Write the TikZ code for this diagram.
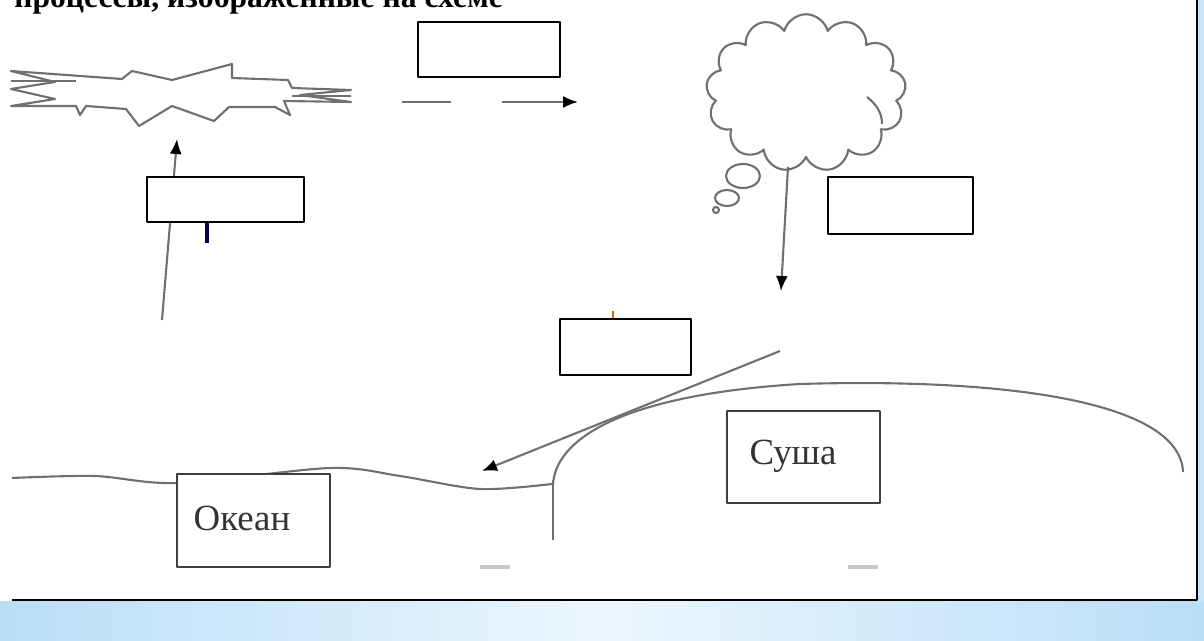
\documentclass[tikz,border=0pt]{standalone}
\usepackage{fontspec}
\setmainfont{Liberation Serif}
\usepackage{xcolor}
\usepackage{tikz}
\usetikzlibrary{shapes.symbols,arrows.meta}
\definecolor{trazo}{RGB}{112,112,112}
\definecolor{celeste}{RGB}{186,222,246}
\definecolor{celesteclaro}{RGB}{236,246,253}
\tikzset{
  caja/.style={draw=black, line width=1.1pt, fill=white, inner sep=0pt},
  cajatexto/.style={draw=black!75, line width=0.9pt, fill=white, inner sep=0pt},
  rotulo/.style={inner sep=0pt, font=\fontsize{21}{23}\selectfont, text=black!80},
  linea/.style={draw=trazo, line width=1.2pt},
  flecha/.style={linea, -{Latex[color=black, length=3mm, width=2.4mm]}}
}

\begin{document}
\begin{tikzpicture}[x=0.02cm, y=-0.02cm, line join=round]
    \useasboundingbox (0,0) rectangle (1204,641);
    \clip (0,0) rectangle (1204,641);

    % Fondo y marco
    \shade[left color=celeste, right color=celeste, middle color=celesteclaro]
      (0,602) rectangle (1204,641);
    \fill[celeste!80] (1198,0) rectangle (1204,602);
    \draw[line width=1.6pt] (12,600) -- (1197,600) -- (1197,0);

    % Titulo (cortado arriba)
    \node[anchor=base west, inner sep=0pt, font=\bfseries\fontsize{18}{20}\selectfont]
      (titulo) at (14,8) {процессы, изображенные на схеме};

    % Coordenadas clave
    \coordinate (rayo-base) at (162,320);
    \coordinate (rayo-pie) at (177,139);
    \coordinate (rayo-der) at (402,102);
    \coordinate (nube-pie) at (788,167);
    \coordinate (lluvia) at (781,291);
    \coordinate (rio) at (780,351);
    \coordinate (costa) at (482,471);

    % Rayo / evaporacion
    \draw[linea, fill=white] (11,71) -- (122,79) -- (132,71) -- (172,80) -- (232,64)
      -- (232,78) -- (288,80) -- (292,88) -- (351,90) -- (300,95) -- (351,102)
      -- (284,101) -- (290,115) -- (275,107) -- (229,107) -- (214,121) -- (172,106)
      -- (139,126) -- (126,109) -- (86,106) -- (80,115) -- (76,106) -- (11,106)
      -- (55,99) -- (11,89) -- (55,82) -- cycle;
    \draw[linea] (11,81) -- (76,81);
    \draw[linea] (292,96) -- (351,96);

    % Nube
    \node[cloud, draw=trazo, line width=1.2pt, fill=white, cloud puffs=13, aspect=1.25,
      minimum width=4cm, minimum height=3.15cm] (nube) at (806,93) {};
    \draw[linea] (867,97) .. controls (877,105) and (882,113) .. (882,124);
    \draw[linea, fill=white] (743,176) ellipse [x radius=17, y radius=12];
    \draw[linea, fill=white] (727,198) ellipse [x radius=12, y radius=8];
    \draw[linea] (716,210) circle [radius=3];

    % Oceano y tierra
    \draw[linea] plot[smooth] coordinates {(12,478) (95,476) (177,483) (330,468)
      (400,476) (480,489) (552,484)};
    \draw[linea, line width=0.8pt] (553,480) -- (553,540);
    \draw[linea] (553,485) .. controls (555,440) and (620,395) .. (800,384)
      .. controls (1000,378) and (1180,400) .. (1183,472);
    \draw[trazo!40, line width=2pt] (480,567) -- (510,567);
    \draw[trazo!40, line width=2pt] (848,567) -- (878,567);

    % Flechas
    \draw[flecha] (rayo-base) -- (rayo-pie);
    \draw[flecha, dash pattern=on 28pt off 29pt on 45pt off 10pt] (rayo-der) -- (578,102);
    \draw[flecha] (nube-pie) -- (lluvia);
    \draw[flecha] (rio) -- (costa);
    \draw[black!70!blue, line width=2pt] (207,222) -- (207,243);
    \draw[orange!80!black, line width=1.5pt] (613,311) -- (613,319);

    % Casillas vacias
    \node[caja, minimum width=2.84cm, minimum height=1.1cm] (caja-a) at (489,49.5) {};
    \node[caja, minimum width=3.14cm, minimum height=0.9cm] (caja-b) at (225.5,199.5) {};
    \node[caja, minimum width=2.9cm, minimum height=1.14cm] (caja-c) at (900.5,205.5) {};
    \node[caja, minimum width=2.62cm, minimum height=1.12cm] (caja-d) at (625.5,347) {};

    % Rotulos
    \node[cajatexto, minimum width=3.06cm, minimum height=1.86cm] (oceano) at (253.5,520.5) {};
    \node[rotulo] (oceano-texto) at (242,518) {Океан};
    \node[cajatexto, minimum width=3.06cm, minimum height=1.84cm] (tierra) at (803.5,457) {};
    \node[rotulo] (tierra-texto) at (793,456) {Суша};
\end{tikzpicture}
\end{document}
